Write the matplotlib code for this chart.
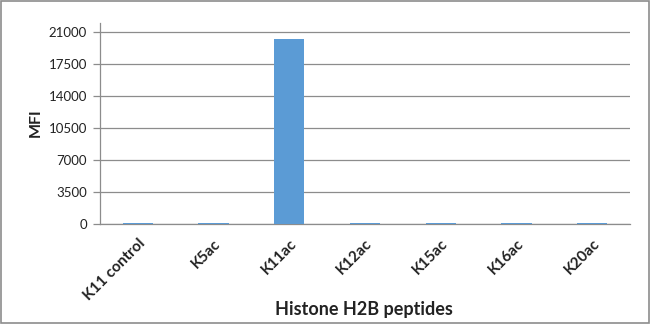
import matplotlib
matplotlib.use("Agg")
import matplotlib.pyplot as plt
from matplotlib.patches import Rectangle

categories = ["K11 control", "K5ac", "K11ac", "K12ac", "K15ac", "K16ac", "K20ac"]
mfi = [80, 80, 20200, 80, 80, 80, 80]
yticks = [0, 3500, 7000, 10500, 14000, 17500, 21000]

plt.rcParams['font.family'] = ['Lato', 'DejaVu Sans']

fig = plt.figure(figsize=(6.5, 3.24), dpi=100)
ax = fig.add_axes([100/650, 1-224/324, 530/650, (224-23)/324])

x = list(range(len(categories)))
ax.bar(x, mfi, width=0.4, color="#5B9BD5", zorder=3)
ax.set_xlim(-0.5, len(categories) - 0.5)
ax.set_ylim(0, 21950)
ax.set_yticks(yticks)
ax.set_yticklabels([str(v) for v in yticks], fontsize=9.5, color="#222222")
ax.grid(axis="y", color="#8c8c8c", linewidth=0.9, zorder=0)
ax.set_xticks(x)
ax.set_xticklabels(categories, rotation=45, ha="right", rotation_mode="anchor",
                   fontsize=11, fontweight="bold", color="#222222")
ax.tick_params(axis="x", length=0, pad=9)
ax.tick_params(axis="y", length=5, width=0.9, color="#8c8c8c", pad=4.5)
for s in ["top", "right"]:
    ax.spines[s].set_visible(False)
ax.spines["left"].set_color("#8c8c8c")
ax.spines["bottom"].set_color("#8c8c8c")
ax.spines["left"].set_linewidth(0.9)
ax.spines["bottom"].set_linewidth(0.9)

ax.set_ylabel("MFI", fontsize=11.5, fontweight="bold", color="#222222")
ax.yaxis.set_label_coords((43-100)/530, 0.505)
fig.text(364/650, 1-315/324, "Histone H2B peptides", fontsize=13, fontweight="bold",
         color="#222222", ha="center", va="baseline")

fig.patches.append(Rectangle((0.001, 0.002), 0.997, 0.995, transform=fig.transFigure,
                             fill=False, edgecolor="#8c8c8c", linewidth=1.2))

fig.savefig("out.png", dpi=100)
